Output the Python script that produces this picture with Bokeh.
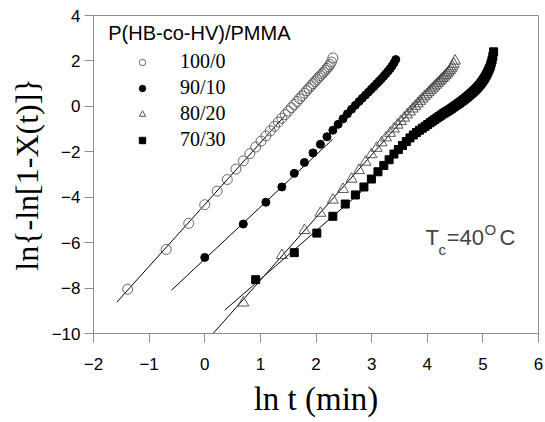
from bokeh.plotting import figure
from bokeh.models import Legend, LegendItem, Label, FixedTicker, Range1d
from bokeh.embed import file_html
from bokeh.resources import INLINE

# ---------------- data ----------------
x_ticks = [-2, -1, 0, 1, 2, 3, 4, 5, 6]
y_ticks = [-10, -8, -6, -4, -2, 0, 2, 4]
series_labels = ["100/0", "90/10", "80/20", "70/30"]

# 100/0
lnt_100 = [-1.386, -0.693, -0.288, 0.0, 0.223, 0.405, 0.560, 0.693, 0.811, 0.916,
           1.012, 1.099, 1.179, 1.253, 1.322, 1.386, 1.447, 1.504, 1.558, 1.609,
           1.658, 1.705, 1.749, 1.792, 1.833, 1.872, 1.911, 1.946, 1.981, 2.015,
           2.048, 2.079, 2.110, 2.140, 2.169, 2.197, 2.224, 2.251, 2.277, 2.303]
y_100 = [-8.05, -6.30, -5.15, -4.33, -3.73, -3.22, -2.76, -2.40, -2.08, -1.79,
         -1.53, -1.30, -1.08, -0.88, -0.69, -0.52, -0.36, -0.21, -0.06, 0.08,
         0.21, 0.34, 0.46, 0.58, 0.69, 0.80, 0.90, 1.00, 1.09, 1.18,
         1.27, 1.35, 1.43, 1.51, 1.59, 1.67, 1.75, 1.84, 1.95, 2.13]
fit_x_100 = [-1.58, 1.45]
fit_y_100 = [-8.62, -0.38]

# 90/10
lnt_90 = [0.0, 0.693, 1.099, 1.386, 1.609, 1.792, 1.946, 2.079, 2.197, 2.303,
          2.398, 2.485, 2.565, 2.639, 2.708, 2.773, 2.833, 2.890, 2.944, 2.996,
          3.045, 3.091, 3.135, 3.178, 3.219, 3.258, 3.296, 3.332, 3.367, 3.401, 3.434]
y_90 = [-6.65, -5.18, -4.22, -3.55, -2.95, -2.47, -2.05, -1.67, -1.34, -1.05,
        -0.79, -0.55, -0.33, -0.13, 0.05, 0.21, 0.36, 0.50, 0.63, 0.76,
        0.88, 1.00, 1.11, 1.22, 1.33, 1.44, 1.55, 1.66, 1.78, 1.91, 2.06]
fit_x_90 = [-0.60, 2.30]
fit_y_90 = [-8.10, -1.45]

# 80/20
lnt_80 = [0.693, 1.386, 1.792, 2.079, 2.303, 2.485, 2.639, 2.773, 2.890, 2.996,
          3.091, 3.178, 3.258, 3.332, 3.401, 3.466, 3.526, 3.584, 3.638, 3.689,
          3.738, 3.784, 3.829, 3.871, 3.912, 3.951, 3.989, 4.025, 4.060, 4.094,
          4.127, 4.159, 4.190, 4.220, 4.248, 4.277, 4.304, 4.331, 4.357, 4.382,
          4.407, 4.431, 4.454, 4.477, 4.500]
y_80 = [-8.65, -6.56, -5.46, -4.70, -4.12, -3.65, -3.20, -2.82, -2.45, -2.12,
        -1.84, -1.60, -1.38, -1.18, -0.99, -0.82, -0.66, -0.51, -0.37, -0.24,
        -0.11, 0.01, 0.12, 0.23, 0.33, 0.43, 0.52, 0.61, 0.70, 0.78,
        0.86, 0.94, 1.02, 1.09, 1.16, 1.23, 1.30, 1.37, 1.44, 1.51,
        1.58, 1.66, 1.75, 1.86, 2.00]
fit_x_80 = [0.15, 3.90]
fit_y_80 = [-10.0, 0.35]

# 70/30
lnt_70 = [0.916, 1.609, 2.015, 2.303, 2.526, 2.708, 2.862, 2.996, 3.114, 3.219,
          3.314, 3.401, 3.481, 3.555, 3.624, 3.689, 3.750, 3.807, 3.861, 3.912,
          3.961, 4.007, 4.052, 4.094, 4.135, 4.174, 4.212, 4.248, 4.284, 4.317,
          4.350, 4.382, 4.413, 4.443, 4.472, 4.500, 4.527, 4.554, 4.580, 4.605,
          4.630, 4.654, 4.677, 4.700, 4.723, 4.745, 4.766, 4.787, 4.808, 4.828,
          4.848, 4.868, 4.887, 4.905, 4.924, 4.942, 4.959, 4.977, 4.994, 5.011,
          5.027, 5.043, 5.059, 5.075, 5.091, 5.106, 5.121, 5.136, 5.150, 5.165,
          5.179, 5.193]
y_70 = [-7.63, -6.44, -5.58, -4.84, -4.30, -3.90, -3.55, -3.20, -2.88, -2.60,
        -2.35, -2.10, -1.90, -1.72, -1.55, -1.39, -1.26, -1.15, -1.05, -0.96,
        -0.88, -0.80, -0.72, -0.65, -0.58, -0.51, -0.45, -0.39, -0.33, -0.28,
        -0.23, -0.18, -0.13, -0.08, -0.03, 0.02, 0.06, 0.11, 0.15, 0.20,
        0.24, 0.29, 0.33, 0.38, 0.42, 0.47, 0.51, 0.56, 0.60, 0.65,
        0.69, 0.74, 0.79, 0.84, 0.89, 0.94, 0.99, 1.05, 1.11, 1.17,
        1.23, 1.30, 1.37, 1.44, 1.52, 1.60, 1.69, 1.79, 1.91, 2.04,
        2.20, 2.40]
fit_x_70 = [0.36, 2.90]
fit_y_70 = [-8.97, -3.57]

# ---------------- figure ----------------
SANS = "Liberation Sans"
SERIF = "Liberation Serif"
FRAME = "#8c8c8c"

p = figure(width=545, height=422, output_backend="svg", toolbar_location=None,
           x_range=Range1d(-2, 6), y_range=Range1d(-10, 4),
           min_border_left=93, min_border_right=7, min_border_top=15,
           min_border_bottom=89)
p.grid.visible = False
p.outline_line_color = FRAME
p.outline_line_width = 1
p.background_fill_color = "white"
p.border_fill_color = "white"

for ax in (p.xaxis[0], p.yaxis[0]):
    ax.axis_line_color = FRAME
    ax.major_tick_line_color = FRAME
    ax.minor_tick_line_color = None
    ax.major_tick_in = 0
    ax.major_tick_out = 9
    ax.major_label_text_font = SANS
    ax.major_label_text_font_size = "17px"
    ax.major_label_text_color = "black"
    ax.axis_label_text_font = SERIF
    ax.axis_label_text_font_style = "normal"
    ax.axis_label_text_color = "black"

p.xaxis.ticker = FixedTicker(ticks=x_ticks)
p.yaxis.ticker = FixedTicker(ticks=y_ticks)
p.xaxis.axis_label = "ln t (min)"
p.xaxis.axis_label_text_font_size = "33px"
p.xaxis.major_label_standoff = 15
p.xaxis.axis_label_standoff = 8
p.yaxis.axis_label = "ln{-ln[1-X(t)]}"
p.yaxis.axis_label_text_font_size = "32px"
p.yaxis.major_label_standoff = 4
p.yaxis.axis_label_standoff = 4

# fit lines
for fx, fy in ((fit_x_100, fit_y_100), (fit_x_90, fit_y_90),
               (fit_x_80, fit_y_80), (fit_x_70, fit_y_70)):
    p.line(fx, fy, line_color="black", line_width=1)

r100 = p.scatter(lnt_100, y_100, marker="circle", size=10, fill_color=None,
                 line_color="#555555", line_width=0.9)
r90 = p.scatter(lnt_90, y_90, marker="circle", size=8, fill_color="black",
                line_color="black")
r80 = p.scatter(lnt_80, y_80, marker="triangle", size=11, fill_color=None,
                line_color="#444444", line_width=0.9)
r70 = p.scatter(lnt_70, y_70, marker="square", size=8, fill_color="black",
                line_color="black")

legend = Legend(items=[LegendItem(label=series_labels[0], renderers=[r100]),
                       LegendItem(label=series_labels[1], renderers=[r90]),
                       LegendItem(label=series_labels[2], renderers=[r80]),
                       LegendItem(label=series_labels[3], renderers=[r70])],
                location=(24, 181), orientation="vertical",
                glyph_width=50, glyph_height=16, label_height=25,
                label_standoff=13, spacing=1, padding=0, margin=0,
                border_line_alpha=0, background_fill_alpha=0,
                label_text_font=SERIF, label_text_font_size="20px",
                label_text_color="black")
p.add_layout(legend, "center")

p.add_layout(Label(x=-1.735, y=3.23, text="P(HB-co-HV)/PMMA", text_font=SANS,
                   text_font_size="20px", text_color="black",
                   text_baseline="alphabetic"))

# T_c = 40 °C
p.add_layout(Label(x=3.97, y=-5.76, text="T", text_font=SANS,
                   text_font_size="22px", text_baseline="alphabetic"))
p.add_layout(Label(x=4.20, y=-6.28, text="c", text_font=SANS,
                   text_font_size="15px", text_baseline="alphabetic"))
p.add_layout(Label(x=4.35, y=-5.76, text="=40", text_font=SANS,
                   text_font_size="22px", text_baseline="alphabetic"))
p.add_layout(Label(x=5.03, y=-5.41, text="O", text_font=SANS,
                   text_font_size="15px", text_baseline="alphabetic"))
p.add_layout(Label(x=5.30, y=-5.76, text="C", text_font=SANS,
                   text_font_size="22px", text_baseline="alphabetic"))

open("out.html", "w").write(file_html(p, INLINE))
